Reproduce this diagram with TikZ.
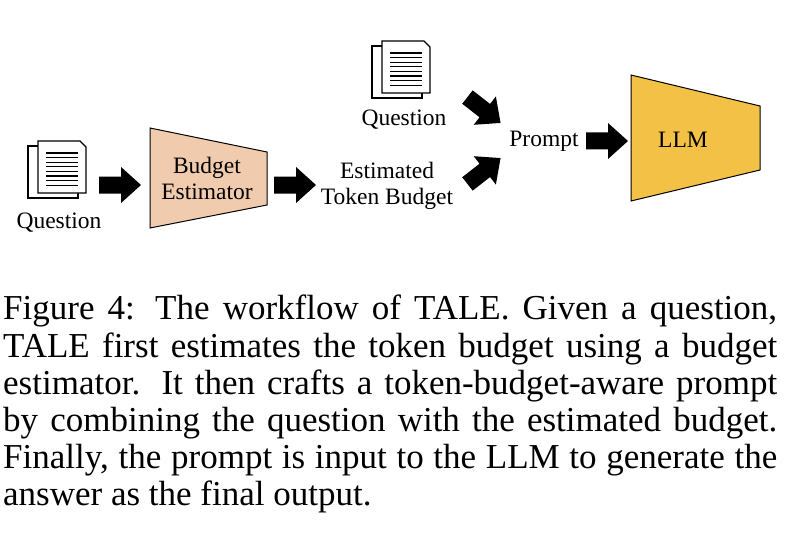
\documentclass[tikz,border=0pt]{standalone}
\usepackage{fontspec}
\setmainfont{Liberation Serif}
\newfontfamily\tms{Liberation Serif}
\definecolor{peach}{RGB}{241,203,173}
\definecolor{gold}{RGB}{242,193,70}
\begin{document}
\begin{tikzpicture}[x=1pt,y=-1pt,
  lbl/.style={font=\tms\fontsize{23.5}{26}\selectfont,align=center,inner sep=0},
  blk/.pic={\fill[black] (-21,-8.5) -- (1,-8.5) -- (1,-18) -- (21,0) -- (1,18) -- (1,8.5) -- (-21,8.5) -- cycle;},
  doc/.pic={
    \draw[line width=1.3pt,fill=white] (-28,-24) rectangle (22,28);
    \draw[line width=1.3pt,fill=white] (-18,-29) -- (24,-29) -- (30,-23) -- (30,23) -- (-18,23) -- cycle;
    \foreach \i in {0,...,7} \draw[line width=1.3pt] (-10,-17+4.6*\i) -- (22,-17+4.6*\i);
  }]
\useasboundingbox (0,0) rectangle (794,548);
\pic at (56,170) {doc};
\pic at (400,70) {doc};
\node[lbl] (q1) at (59,223) {Question};
\node[lbl] (q2) at (404,120) {Question};
\draw[line width=1pt,fill=peach] (150,128) -- (267,152) -- (267,205) -- (150,228) -- cycle;
\node[lbl] (be) at (207,178) {Budget\\Estimator};
\node[lbl] (tb) at (387,186) {Estimated\\Token Budget};
\node[lbl] (pr) at (544,141) {Prompt};
\draw[line width=1pt,fill=gold] (631,75) -- (760,106) -- (760,170) -- (631,201) -- cycle;
\node[lbl] (llm) at (683,140) {LLM};
\pic at (120,185) {blk};
\pic at (295,185) {blk};
\pic at (607,141) {blk};
\pic[rotate=-38] at (484,110) {blk};
\pic[rotate=38] at (484,171) {blk};
\node[anchor=north west,text width=774pt,align=justify,inner sep=0,font=\tms\fontsize{35}{37.2}\selectfont] (cap) at (3,295)
{Figure 4: The workflow of TALE. Given a question,\linebreak TALE first estimates the token budget using a budget\linebreak estimator. It then crafts a token-budget-aware prompt\linebreak by combining the question with the estimated budget.\linebreak Finally, the prompt is input to the LLM to generate the\linebreak answer as the final output.};
\end{tikzpicture}
\end{document}
